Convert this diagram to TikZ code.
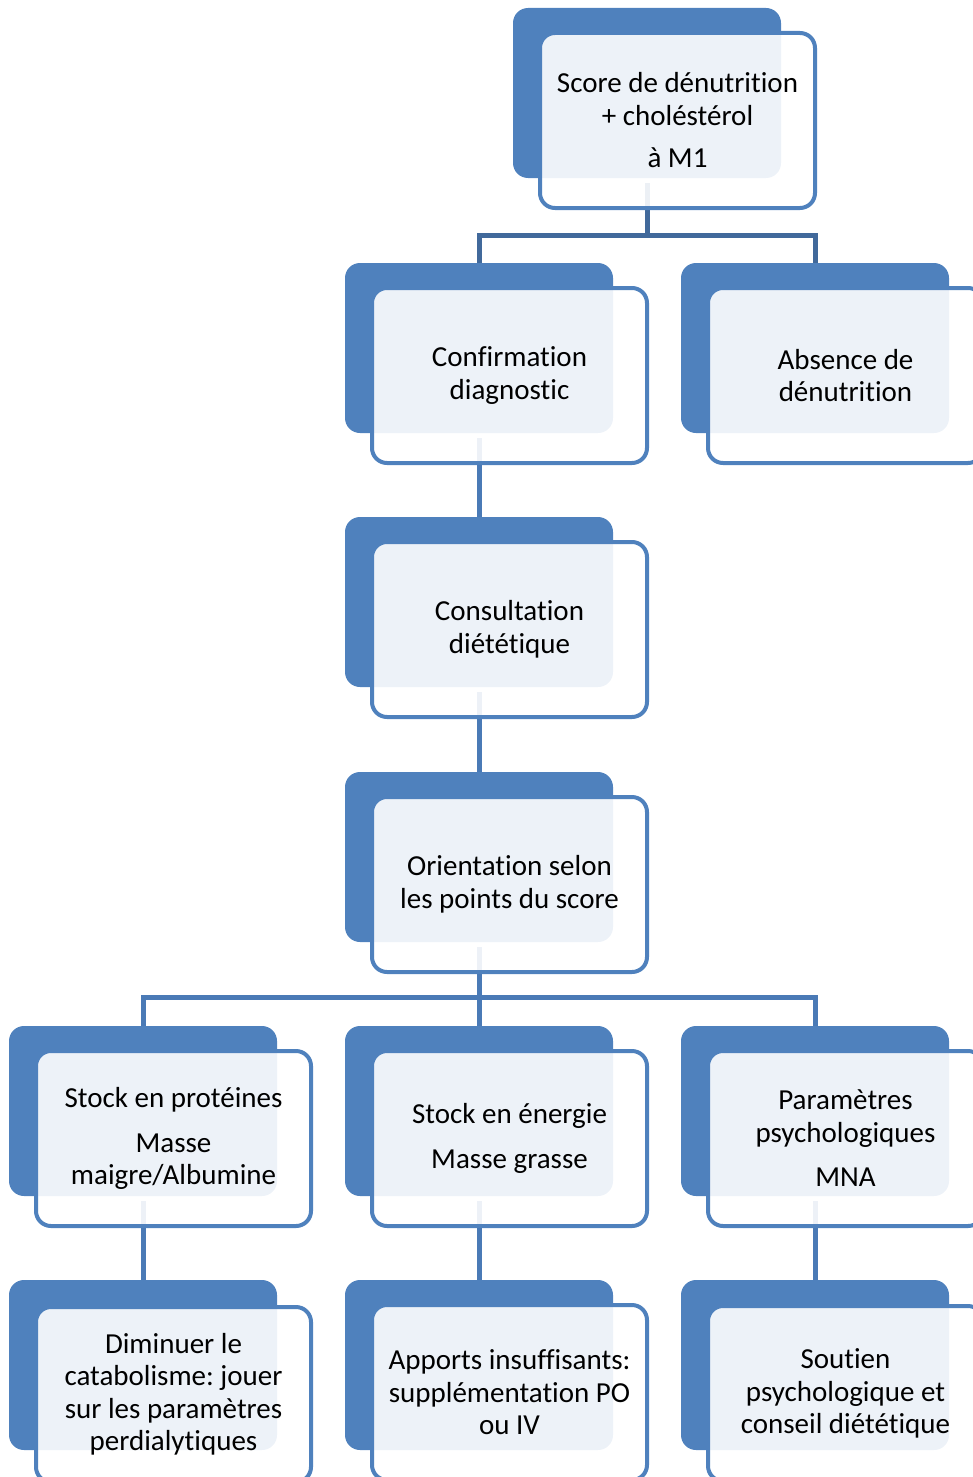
\documentclass[tikz,border=0pt]{standalone}
\usepackage{fontspec}
\setmainfont[Ligatures={NoCommon}]{Carlito}
\frenchspacing
\definecolor{accent}{HTML}{4F81BD}
\definecolor{busdark}{HTML}{41699B}
\definecolor{connc}{HTML}{4A7AB6}
\tikzset{
  backbox/.style={fill=accent, rounded corners=15pt, minimum width=268pt, minimum height=170pt, inner sep=0pt, outer sep=0pt},
  frontbox/.style={draw=accent, line width=4pt, fill=white, fill opacity=0.9, text opacity=1, rounded corners=15pt, minimum width=275pt, minimum height=175pt, inner sep=0pt, outer sep=0pt, align=center, font=\fontsize{29}{32.5}\selectfont\frenchspacing, text=black},
  conn/.style={draw=connc, line width=5pt},
  busconn/.style={draw=busdark, line width=5pt},
}
\begin{document}
\begin{tikzpicture}[x=1pt, y=-1pt]
\useasboundingbox (0,0) rectangle (973,1477);
\clip (0,0) rectangle (973,1477);
% back boxes
\node[backbox] (b1) at (647,93) {};
\node[backbox] (b2) at (479,348) {};
\node[backbox] (b3) at (815,348) {};
\node[backbox] (b4) at (479,602) {};
\node[backbox] (b5) at (479,857) {};
\node[backbox] (b6) at (143,1111) {};
\node[backbox] (b7) at (479,1111) {};
\node[backbox] (b8) at (815,1111) {};
\node[backbox] (b9) at (143,1365) {};
\node[backbox] (b10) at (479,1365) {};
\node[backbox] (b11) at (815,1365) {};
% connectors
\coordinate (j1) at (647,235);
\coordinate (j2) at (479,997);
\draw[busconn] ([yshift=-5pt]b1.south) -- (j1);
\draw[busconn] (b2.north) |- (j1) -| (b3.north);
\draw[conn] ([yshift=-5pt]b2.south) -- (b4.north);
\draw[conn] ([yshift=-5pt]b4.south) -- (b5.north);
\draw[conn] ([yshift=-5pt]b5.south) -- (j2);
\draw[conn] (b6.north) |- (j2) -| (b8.north);
\draw[conn] (j2) -- (b7.north);
\draw[conn] ([yshift=-5pt]b6.south) -- (b9.north);
\draw[conn] ([yshift=-5pt]b7.south) -- (b10.north);
\draw[conn] ([yshift=-5pt]b8.south) -- (b11.north);
% front boxes
\node[frontbox] (f1) at (677.5,120.5) {Score de dénutrition\\+ choléstérol\\[10pt]à M1};
\node[frontbox] (f2) at (509.5,375.5) {Confirmation\\diagnostic};
\node[frontbox] (f3) at (845.5,375.5) {Absence de\\dénutrition};
\node[frontbox] (f4) at (509.5,629.5) {Consultation\\diététique};
\node[frontbox] (f5) at (509.5,884.5) {Orientation selon\\les points du score};
\node[frontbox] (f6) at (173.5,1138.5) {Stock en protéines\\[12pt]Masse\\maigre/Albumine};
\node[frontbox] (f7) at (509.5,1138.5) {Stock en énergie\\[12pt]Masse grasse};
\node[frontbox] (f8) at (845.5,1138.5) {Paramètres\\psychologiques\\[12pt]MNA};
\node[frontbox] (f9) at (173.5,1394.5) {Diminuer le\\catabolisme: jouer\\sur les paramètres\\perdialytiques};
\node[frontbox] (f10) at (509.5,1392.5) {Apports insuffisants:\\supplémentation PO\\ou IV};
\node[frontbox] (f11) at (845.5,1393.5) {Soutien\\psychologique et\\conseil diététique};
\end{tikzpicture}
\end{document}
